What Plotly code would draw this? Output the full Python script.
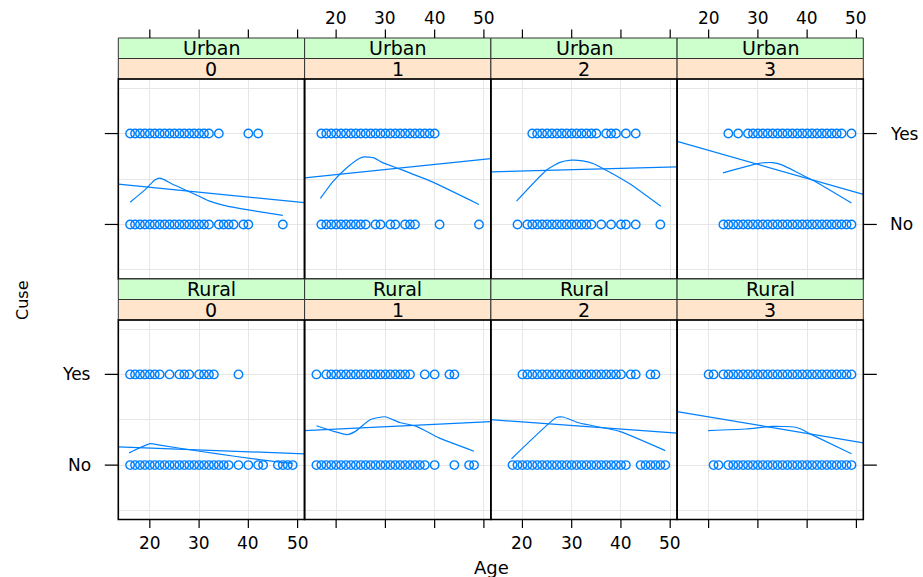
import plotly.graph_objects as go

# ---------------- data ----------------
livch_levels = ["0", "1", "2", "3"]
urban_levels = ["Urban", "Rural"]
use_levels = ["No", "Yes"]          # plotted as 1, 2
age_ticks = [20, 30, 40, 50]
age_limits = [15, 50]

urban0_yes = [16, 17, 18, 19, 20, 21, 22, 23, 24, 25, 26, 27, 28, 29, 30, 31, 32, 34, 40, 42]
urban0_no = [16, 17, 18, 19, 20, 21, 22, 23, 24, 25, 26, 27, 28, 29, 30, 31, 32, 34, 35, 36, 37, 39, 40, 47]
urban1_yes = [17, 18, 19, 20, 21, 22, 23, 24, 25, 26, 27, 28, 29, 30, 31, 32, 33, 34, 35, 36, 37, 38, 39, 40]
urban1_no = [17, 18, 19, 20, 21, 22, 23, 24, 25, 26, 28, 29, 31, 32, 34, 35, 36, 41, 49]
urban2_yes = [22, 23, 24, 25, 26, 27, 28, 29, 30, 31, 32, 33, 34, 35, 37, 38, 39, 41, 43]
urban2_no = [19, 21, 22, 23, 24, 25, 26, 27, 28, 29, 30, 31, 32, 33, 34, 36, 38, 40, 41, 43, 48]
urban3_yes = [24, 26, 28, 29, 30, 31, 32, 33, 34, 35, 36, 37, 38, 39, 40, 41, 42, 43, 44, 45, 46, 47, 49]
urban3_no = [23, 24, 25, 26, 27, 28, 29, 30, 31, 32, 33, 34, 35, 36, 37, 38, 39, 40, 41, 42, 43, 44, 45,
             46, 47, 48, 49]

rural0_yes = [16, 17, 18, 19, 20, 21, 22, 24, 26, 27, 28, 30, 31, 32, 33, 38]
rural0_no = [16, 17, 18, 19, 20, 21, 22, 23, 24, 25, 26, 27, 28, 29, 30, 31, 32, 33, 34, 35, 36, 38, 40,
             42, 43, 46, 47, 48, 49]
rural1_yes = [16, 18, 19, 20, 21, 22, 23, 24, 25, 26, 27, 28, 29, 30, 31, 32, 33, 34, 35, 38, 40, 43, 44]
rural1_no = [16, 17, 18, 19, 20, 21, 22, 23, 24, 25, 26, 27, 28, 29, 30, 31, 32, 33, 34, 35, 36, 37, 38,
             40, 44, 47, 48]
rural2_yes = [20, 21, 22, 23, 24, 25, 26, 27, 28, 29, 30, 31, 32, 33, 34, 35, 36, 37, 38, 39, 40, 42, 43,
              46, 47]
rural2_no = [18, 19, 20, 21, 22, 23, 24, 25, 26, 27, 28, 29, 30, 31, 32, 33, 34, 35, 36, 37, 38, 39, 40,
             41, 44, 45, 46, 47, 48, 49]
rural3_yes = [20, 21, 23, 24, 25, 26, 27, 28, 29, 30, 31, 32, 33, 34, 35, 36, 37, 38, 39, 40, 41, 42, 43,
              44, 45, 46, 47, 48, 49]
rural3_no = [21, 22, 24, 25, 26, 27, 28, 29, 30, 31, 32, 33, 34, 35, 36, 37, 38, 39, 40, 41, 42, 43, 44,
             45, 46, 47, 48, 49]

# loess smooth curves
urban0_smooth_age = [16, 19, 21, 22, 23, 24.5, 26, 28, 30, 32, 35.5, 40, 47]
urban0_smooth_use = [1.245, 1.38, 1.49, 1.51, 1.49, 1.445, 1.41, 1.36, 1.31, 1.26, 1.205, 1.16, 1.10]
urban1_smooth_age = [16.8, 19.3, 22.0, 24.7, 25.7, 27.7, 29.1, 30.8, 33.5, 39.5, 49.0]
urban1_smooth_use = [1.286, 1.468, 1.615, 1.725, 1.743, 1.732, 1.688, 1.652, 1.597, 1.468, 1.22]
urban2_smooth_age = [18.8, 24.85, 27.5, 29.9, 32.2, 34.3, 37.0, 41.7, 48.1]
urban2_smooth_use = [1.256, 1.597, 1.68, 1.707, 1.70, 1.67, 1.597, 1.45, 1.20]
urban3_smooth_age = [22.9, 30.0, 33.0, 35.0, 38.4, 41.8, 49.0]
urban3_smooth_use = [1.567, 1.67, 1.68, 1.652, 1.56, 1.468, 1.237]
rural0_smooth_age = [15.8, 20.1, 22.0, 30.1, 36.8, 46.3, 49.0]
rural0_smooth_use = [1.135, 1.237, 1.22, 1.153, 1.10, 1.033, 1.02]
rural1_smooth_age = [16.0, 19.5, 22.2, 23.9, 26.9, 29.9, 32.9, 36.3, 40.9, 48.0]
rural1_smooth_use = [1.434, 1.372, 1.336, 1.372, 1.50, 1.533, 1.47, 1.427, 1.30, 1.153]
rural2_smooth_age = [17.8, 26.9, 28.2, 31.6, 39.7, 49.0]
rural2_smooth_use = [1.07, 1.525, 1.53, 1.464, 1.372, 1.16]
rural3_smooth_age = [19.9, 27.6, 33.0, 37.4, 38.7, 40.4, 49.0]
rural3_smooth_use = [1.38, 1.398, 1.427, 1.42, 1.398, 1.35, 1.125]

# linear regression lines: fitted value at age 15 and at age 50, per livch level
urban_reg_15 = [1.4355, 1.520, 1.580, 1.893]
urban_reg_50 = [1.2475, 1.717, 1.631, 1.352]
rural_reg_15 = [1.197, 1.384, 1.495, 1.577]
rural_reg_50 = [1.127, 1.476, 1.359, 1.258]

# ---------------- assemble tables ----------------
points = {
    ("Urban", "0"): (urban0_no, urban0_yes), ("Urban", "1"): (urban1_no, urban1_yes),
    ("Urban", "2"): (urban2_no, urban2_yes), ("Urban", "3"): (urban3_no, urban3_yes),
    ("Rural", "0"): (rural0_no, rural0_yes), ("Rural", "1"): (rural1_no, rural1_yes),
    ("Rural", "2"): (rural2_no, rural2_yes), ("Rural", "3"): (rural3_no, rural3_yes),
}
smooths = {
    ("Urban", "0"): (urban0_smooth_age, urban0_smooth_use), ("Urban", "1"): (urban1_smooth_age, urban1_smooth_use),
    ("Urban", "2"): (urban2_smooth_age, urban2_smooth_use), ("Urban", "3"): (urban3_smooth_age, urban3_smooth_use),
    ("Rural", "0"): (rural0_smooth_age, rural0_smooth_use), ("Rural", "1"): (rural1_smooth_age, rural1_smooth_use),
    ("Rural", "2"): (rural2_smooth_age, rural2_smooth_use), ("Rural", "3"): (rural3_smooth_age, rural3_smooth_use),
}
regs = {"Urban": (urban_reg_15, urban_reg_50), "Rural": (rural_reg_15, rural_reg_50)}

# ---------------- style / layout ----------------
W, H = 923, 577
BLUE = "#0080FF"
GRID = "#E6E6E6"
FONT = "DejaVu Sans"
pad_x = 0.04 * (age_limits[1] - age_limits[0])
xlo, xhi = age_limits[0] - pad_x, age_limits[1] + pad_x
ylo, yhi = 1 - 0.6, len(use_levels) + 0.6
grid_y = [0.5, 1, 1.5, 2, 2.5]

col_left = [118.3, 304.6, 490.9, 677.1]
col_w = 186.2
row_panel = [(79.0, 279.0), (320.0, 519.5)]   # (top, bottom) px
strip_h = 20.5


def fx(p):
    return p / W


def fy(p):
    return 1 - p / H


fig = go.Figure()
shapes = []
annotations = []
layout_axes = {}

for r, urb in enumerate(urban_levels):
    top, bot = row_panel[r]
    for c, lv in enumerate(livch_levels):
        n = r * 4 + c + 1
        sfx = "" if n == 1 else str(n)
        xa, ya = "x" + sfx, "y" + sfx
        L, R = col_left[c], col_left[c] + col_w

        no_ages, yes_ages = points[(urb, lv)]
        fig.add_trace(go.Scatter(
            x=no_ages + yes_ages, y=[1] * len(no_ages) + [2] * len(yes_ages),
            mode="markers", xaxis=xa, yaxis=ya, showlegend=False, hoverinfo="skip",
            marker=dict(symbol="circle-open", size=8.5, color=BLUE, line=dict(width=1.4, color=BLUE))))
        sx, sy = smooths[(urb, lv)]
        fig.add_trace(go.Scatter(
            x=sx, y=sy, mode="lines", xaxis=xa, yaxis=ya, showlegend=False, hoverinfo="skip",
            line=dict(color=BLUE, width=1.2, shape="spline", smoothing=0.5)))
        r15, r50 = regs[urb][0][c], regs[urb][1][c]
        slope = (r50 - r15) / (50 - 15)
        fig.add_trace(go.Scatter(
            x=[xlo, xhi], y=[r15 + slope * (xlo - 15), r15 + slope * (xhi - 15)],
            mode="lines", xaxis=xa, yaxis=ya, showlegend=False, hoverinfo="skip",
            line=dict(color=BLUE, width=1.2)))

        layout_axes["xaxis" + sfx] = dict(
            domain=[fx(L), fx(R)], range=[xlo, xhi], anchor=ya, tickvals=age_ticks,
            showticklabels=False, ticks="", showgrid=True, gridcolor=GRID, gridwidth=1.3,
            zeroline=False, showline=False, fixedrange=True)
        layout_axes["yaxis" + sfx] = dict(
            domain=[fy(bot), fy(top)], range=[ylo, yhi], anchor=xa, tickvals=grid_y,
            showticklabels=False, ticks="", showgrid=True, gridcolor=GRID, gridwidth=1.3,
            zeroline=False, showline=False, fixedrange=True)

        # strips
        s_top = top - 2 * strip_h
        shapes.append(dict(type="rect", xref="paper", yref="paper", x0=fx(L), x1=fx(R),
                           y0=fy(s_top + strip_h), y1=fy(s_top), fillcolor="#CCFFCC",
                           line=dict(color="#333333", width=1), layer="above"))
        shapes.append(dict(type="rect", xref="paper", yref="paper", x0=fx(L), x1=fx(R),
                           y0=fy(top), y1=fy(s_top + strip_h), fillcolor="#FFE5CC",
                           line=dict(color="#333333", width=1), layer="above"))
        annotations.append(dict(text=urb, xref="paper", yref="paper", x=fx((L + R) / 2),
                                y=fy(s_top + strip_h / 2), showarrow=False, xanchor="center",
                                yanchor="middle", font=dict(family=FONT, size=19, color="black")))
        annotations.append(dict(text=lv, xref="paper", yref="paper", x=fx((L + R) / 2),
                                y=fy(s_top + 1.5 * strip_h), showarrow=False, xanchor="center",
                                yanchor="middle", font=dict(family=FONT, size=19, color="black")))
        # panel border
        shapes.append(dict(type="rect", xref="paper", yref="paper", x0=fx(L), x1=fx(R),
                           y0=fy(bot), y1=fy(top), line=dict(color="black", width=1.6),
                           layer="above"))

        # x ticks (top on top row, bottom on bottom row)
        for t in age_ticks:
            if r == 0:
                shapes.append(dict(type="line", xref=xa, yref="paper", x0=t, x1=t,
                                   y0=fy(s_top - 8.5), y1=fy(s_top), line=dict(color="black", width=1.2)))
                if c % 2 == 1:
                    annotations.append(dict(text=str(t), xref=xa, yref="paper", x=t, y=fy(18),
                                            showarrow=False, xanchor="center", yanchor="middle",
                                            font=dict(family=FONT, size=17, color="black")))
            else:
                shapes.append(dict(type="line", xref=xa, yref="paper", x0=t, x1=t,
                                   y0=fy(bot), y1=fy(bot + 8.5), line=dict(color="black", width=1.2)))
                if c % 2 == 0:
                    annotations.append(dict(text=str(t), xref=xa, yref="paper", x=t, y=fy(543),
                                            showarrow=False, xanchor="center", yanchor="middle",
                                            font=dict(family=FONT, size=17, color="black")))
        # y ticks (left on column 0, right on column 3)
        for k, lab in enumerate(use_levels):
            yv = k + 1
            if c == 0:
                shapes.append(dict(type="line", xref="paper", yref=ya, x0=fx(L - 13.5), x1=fx(L),
                                   y0=yv, y1=yv, line=dict(color="black", width=1.2)))
                if r == 1:
                    annotations.append(dict(text=lab, xref="paper", yref=ya, x=fx(L - 25), y=yv,
                                            showarrow=False, xanchor="right", yanchor="middle",
                                            font=dict(family=FONT, size=17, color="black")))
            if c == 3:
                shapes.append(dict(type="line", xref="paper", yref=ya, x0=fx(R), x1=fx(R + 13.5),
                                   y0=yv, y1=yv, line=dict(color="black", width=1.2)))
                if r == 0:
                    annotations.append(dict(text=lab, xref="paper", yref=ya, x=fx(R + 25), y=yv,
                                            showarrow=False, xanchor="left", yanchor="middle",
                                            font=dict(family=FONT, size=17, color="black")))

annotations.append(dict(text="Age", xref="paper", yref="paper", x=fx(491), y=fy(567),
                        showarrow=False, xanchor="center", yanchor="middle",
                        font=dict(family=FONT, size=18, color="black")))
annotations.append(dict(text="Cuse", xref="paper", yref="paper", x=fx(22), y=fy(300),
                        showarrow=False, xanchor="center", yanchor="middle", textangle=-90,
                        font=dict(family=FONT, size=16, color="black")))

fig.update_layout(
    width=W, height=H, autosize=False, margin=dict(l=0, r=0, t=0, b=0),
    paper_bgcolor="white", plot_bgcolor="white", showlegend=False,
    shapes=shapes, annotations=annotations, **layout_axes)

fig.write_html("out.html", config={"displayModeBar": False},
               post_script="document.body.style.margin='0px';document.body.style.padding='0px';"
                           "document.body.style.overflow='hidden';")
